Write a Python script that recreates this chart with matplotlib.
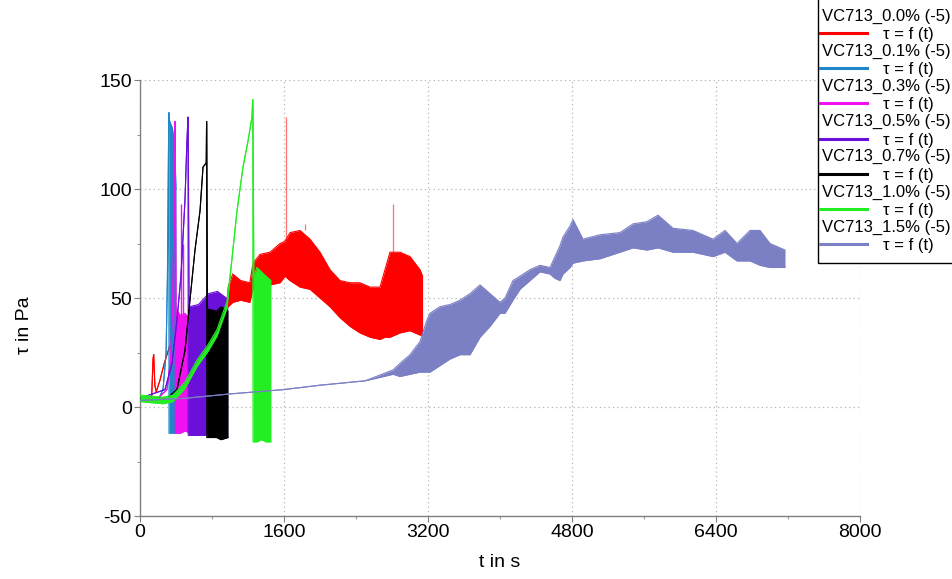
import matplotlib
matplotlib.use('Agg')
import matplotlib.pyplot as plt
from matplotlib.lines import Line2D
from matplotlib.patches import Rectangle
from matplotlib.ticker import MultipleLocator

plt.rcParams['font.family'] = ['Liberation Sans', 'DejaVu Sans']
plt.rcParams['axes.unicode_minus'] = False

# series names and colours (legend order = drawing order)
names = ['VC713_0.0% (-5)', 'VC713_0.1% (-5)', 'VC713_0.3% (-5)', 'VC713_0.5% (-5)',
         'VC713_0.7% (-5)', 'VC713_1.0% (-5)', 'VC713_1.5% (-5)']
colors = ['#ff0000', '#1f86c8', '#f010f0', '#6a10d8', '#000000', '#22ee22', '#7b7fc4']

# each series: time, lower and upper envelope of the oscillating signal (tau in Pa)
t_00 = [0, 80, 130, 145, 152, 165, 180, 220, 270, 330, 450, 600, 800, 960, 980, 1030, 1120,
        1220, 1256, 1333, 1444, 1556, 1611, 1667, 1778, 1889, 2000, 2111, 2222, 2333, 2444,
        2556, 2667, 2722, 2778, 2889, 3000, 3111, 3140]
lo_00 = [5, 4, 5, 22, 24, 10, 7, 12, 20, 28, 33, 37, 41, 45, 46, 48, 49, 48, 54, 57, 56, 57,
         60, 58, 55, 54, 50, 46, 41, 37, 34, 32, 31, 32, 32, 34, 35, 33, 33]
hi_00 = [5, 4, 5, 22, 24, 10, 7, 12, 20, 28, 33, 37, 41, 45, 55, 61, 58, 57, 66, 70, 71, 75,
         76, 80, 81, 77, 71, 63, 58, 57, 57, 55, 55, 63, 71, 71, 69, 63, 60]

t_01 = [0, 100, 200, 256, 290, 305, 315, 320, 322, 360, 385, 400]
lo_01 = [4, 3, 3, 8, 25, 60, 110, 135, -12, -12, -12, -12]
hi_01 = [4, 3, 3, 8, 25, 60, 110, 135, 132, 128, 120, 100]

t_03 = [0, 200, 300, 340, 365, 380, 388, 392, 400, 450, 500, 555]
lo_03 = [4, 4, 8, 22, 50, 95, 131, -12, -12, -12, -11, -12]
hi_03 = [4, 4, 8, 22, 50, 95, 131, 128, 45, 42, 43, 40]

t_05 = [0, 278, 356, 411, 455, 500, 520, 533, 536, 545, 650, 760, 860, 960, 975]
lo_05 = [4, 8, 20, 40, 60, 95, 120, 133, -13, -13, -13, -13, -14, -14, -14]
hi_05 = [4, 8, 20, 40, 60, 95, 120, 133, 128, 46, 47, 52, 53, 50, 45]

t_07 = [0, 300, 411, 500, 555, 611, 667, 700, 736, 740, 742, 750, 850, 900, 978]
lo_07 = [4, 4, 8, 26, 49, 72, 90, 110, 112, 131, -14, -14, -14, -15, -14]
hi_07 = [4, 4, 8, 26, 49, 72, 90, 110, 112, 131, 125, 45, 44, 46, 44]

t_10 = [0, 120, 256, 367, 500, 633, 755, 855, 967, 1022, 1078, 1144, 1200, 1244, 1252,
        1256, 1265, 1300, 1350, 1400, 1455]
lo_10 = [2.5, 2, 1.5, 2.5, 8.5, 18.5, 25.5, 32.5, 45.5, 68, 90, 110, 122, 133, 141,
         -16, -16, -16, -15, -16, -16]
hi_10 = [5.5, 5, 4.5, 5.5, 11.5, 21.5, 28.5, 35.5, 48.5, 68, 90, 110, 122, 133, 141,
         138, 60, 64, 62, 60, 58]

t_15 = [0, 500, 1000, 1600, 2000, 2500, 2811, 2889, 3000, 3111, 3189, 3222, 3333, 3444,
        3556, 3667, 3778, 3889, 4000, 4056, 4144, 4222, 4333, 4444, 4556, 4611, 4667, 4700,
        4778, 4811, 4922, 5111, 5333, 5478, 5633, 5756, 5922, 6144, 6367, 6500, 6633, 6778,
        6889, 7000, 7167]
lo_15 = [3, 4, 6, 8, 10, 12, 15, 14, 15, 16, 16, 16, 19, 22, 24, 24, 32, 37, 43, 43, 49,
         54, 58, 62, 61, 59, 58, 61, 64, 66, 67, 68, 71, 73, 72, 73, 71, 71, 69, 71, 67, 67,
         65, 64, 64]
hi_15 = [3, 4, 6, 8, 10, 12, 17, 20, 24, 30, 40, 43, 46, 47, 49, 52, 56, 52, 48, 50, 58,
         60, 63, 65, 64, 69, 74, 78, 83, 86, 77, 79, 80, 84, 85, 88, 82, 81, 77, 81, 75, 81,
         81, 75, 72]

# isolated spikes (time, peak value)
spikes_00 = [(1620, 133), (1833, 84), (2810, 93)]
spikes_03 = [(455, 93), (480, 75)]

series = [(t_00, lo_00, hi_00), (t_01, lo_01, hi_01), (t_03, lo_03, hi_03),
          (t_05, lo_05, hi_05), (t_07, lo_07, hi_07), (t_10, lo_10, hi_10),
          (t_15, lo_15, hi_15)]

fig = plt.figure(figsize=(9.53, 5.79), dpi=100)
ax = fig.add_axes([0.1469, 0.1088, 0.7555, 0.753])

for i, ((t, lo, hi), c) in enumerate(zip(series, colors)):
    z = 2 + i
    ax.fill_between(t, lo, hi, color=c, lw=0, zorder=z)
    ax.plot(t, lo, color=c, lw=0.8, zorder=z)
    ax.plot(t, hi, color=c, lw=0.8, zorder=z)
    if i == 0:
        for ts, top in spikes_00:
            j = min(range(len(t)), key=lambda k: abs(t[k] - ts))
            ax.vlines(ts, hi[j], top, color=c, lw=0.9, alpha=0.55, zorder=z)
    if i == 2:
        for ts, top in spikes_03:
            ax.vlines(ts, 40, top, color=c, lw=1.0, zorder=z)

ax.set_xlim(0, 8000)
ax.set_ylim(-50, 150)
ax.set_xticks([0, 1600, 3200, 4800, 6400, 8000])
ax.set_yticks([-50, 0, 50, 100, 150])
ax.xaxis.set_minor_locator(MultipleLocator(800))
ax.yaxis.set_minor_locator(MultipleLocator(25))
ax.set_axisbelow(True)
ax.grid(True, which='major', linestyle=(0, (1, 2.5)), color='#b4b4b4', lw=0.9)

for side in ['top', 'right']:
    ax.spines[side].set_visible(False)
for side in ['left', 'bottom']:
    ax.spines[side].set_color('#808080')
    ax.spines[side].set_linewidth(1)

ax.tick_params(which='major', direction='out', length=4, color='#808080', labelsize=14, pad=2)
ax.tick_params(which='minor', direction='out', length=2.5, color='#808080')

ax.set_xlabel('t in s', fontsize=14)
ax.xaxis.set_label_coords(0.5, -0.087)
ax.set_ylabel('τ in Pa', fontsize=14)
ax.yaxis.set_label_coords(-0.149, 0.438)

# legend box outside the plot area, upper right
fig.patches.append(Rectangle((818 / 953, 1 - 263 / 579), 0.2, 0.5, transform=fig.transFigure,
                             facecolor='white', edgecolor='black', lw=1, zorder=10))
for i, (name, c) in enumerate(zip(names, colors)):
    y_txt = 1 - (16 + 35.2 * i) / 579
    y_line = 1 - (33 + 35.2 * i) / 579
    fig.text(822 / 953, y_txt, name, fontsize=12, va='center', ha='left', zorder=11)
    fig.lines.append(Line2D([820 / 953, 867 / 953], [y_line, y_line], color=c, lw=2.2,
                            transform=fig.transFigure, zorder=11))
    fig.text(883 / 953, y_line - 1.5 / 579, 'τ = f (t)', fontsize=12, va='center', ha='left',
             zorder=11)

fig.savefig('out.png', dpi=100)
